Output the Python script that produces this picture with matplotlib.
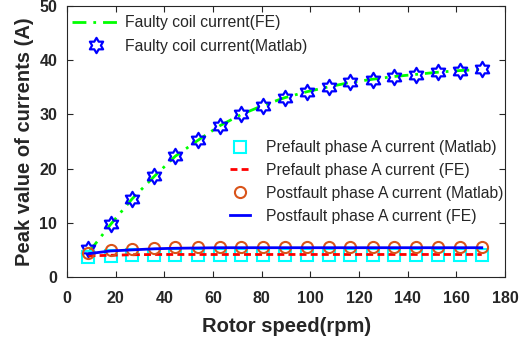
import numpy as np
import matplotlib
matplotlib.use("Agg")
import matplotlib.pyplot as plt
from matplotlib.path import Path

plt.rcParams['font.family'] = ['Liberation Sans', 'DejaVu Sans']

# ---- data ----
speed = [8.8, 17.9, 26.7, 35.9, 44.5, 54.0, 62.7, 71.6, 80.7, 89.5,
         98.6, 107.5, 116.3, 125.6, 134.3, 143.5, 152.5, 161.3, 170.4]
faulty_fe = [4.5, 9.7, 14.4, 18.6, 22.3, 25.3, 27.9, 30.0, 31.7, 33.1,
             34.2, 35.1, 35.9, 36.5, 37.0, 37.4, 37.8, 38.1, 38.3]
faulty_matlab = [5.2, 9.8, 14.3, 18.7, 22.3, 25.2, 27.9, 30.0, 31.6, 33.0,
                 34.1, 35.0, 35.9, 36.4, 36.9, 37.3, 37.8, 38.0, 38.4]
pre_matlab = [3.6, 3.9, 4.0, 4.0, 4.0, 4.0, 4.0, 4.0, 4.0, 4.0,
              4.0, 4.0, 4.0, 4.0, 4.0, 4.0, 4.0, 4.0, 4.0]
pre_fe = [3.9, 4.0, 4.1, 4.15, 4.15, 4.15, 4.15, 4.15, 4.15, 4.15,
          4.15, 4.15, 4.15, 4.15, 4.15, 4.15, 4.15, 4.15, 4.15]
post_matlab = [4.4, 4.9, 5.2, 5.4, 5.45, 5.5, 5.5, 5.5, 5.5, 5.5,
               5.5, 5.5, 5.5, 5.5, 5.5, 5.5, 5.5, 5.5, 5.5]
post_fe = [4.3, 4.8, 5.0, 5.2, 5.3, 5.35, 5.4, 5.4, 5.4, 5.4,
           5.4, 5.4, 5.4, 5.4, 5.4, 5.4, 5.4, 5.4, 5.4]

xticks = [0, 20, 40, 60, 80, 100, 120, 140, 160, 180]
yticks = [0, 10, 20, 30, 40, 50]

# hexagram marker (Star of David outline)
ang_o = np.deg2rad(90 + 60 * np.arange(6))
ang_i = ang_o + np.deg2rad(30)
r_i = 1 / np.sqrt(3)
verts = []
for ao, ai in zip(ang_o, ang_i):
    verts.append((np.cos(ao), np.sin(ao)))
    verts.append((r_i * np.cos(ai), r_i * np.sin(ai)))
verts.append(verts[0])
codes = [Path.MOVETO] + [Path.LINETO] * (len(verts) - 2) + [Path.CLOSEPOLY]
hexagram = Path(verts, codes)

txtc = (0.15, 0.15, 0.15)
fig = plt.figure(figsize=(5.24, 3.39), dpi=100)
ax = fig.add_axes([0.128, 0.183, 0.836, 0.799])

l1, = ax.plot(speed, faulty_fe, color=(0, 1, 0), lw=2, linestyle=(0, (5, 2.5, 1, 2.5)),
              label='Faulty coil current(FE)')
l2, = ax.plot(speed, faulty_matlab, linestyle='none', marker=hexagram, ms=11,
              mfc='none', mec=(0, 0, 1), mew=1.6, label='Faulty coil current(Matlab)')
l3, = ax.plot(speed, pre_matlab, linestyle='none', marker='s', ms=8,
              mfc='none', mec=(0, 1, 1), mew=1.5, label='Prefault phase A current (Matlab)')
l4, = ax.plot(speed, pre_fe, color=(1, 0, 0), lw=2, linestyle=(0, (2.5, 1.5)),
              label='Prefault phase A current (FE)')
l5, = ax.plot(speed, post_matlab, linestyle='none', marker='o', ms=8,
              mfc='none', mec=(0.85, 0.33, 0.1), mew=1.5, label='Postfault phase A current (Matlab)')
l6, = ax.plot(speed, post_fe, color=(0, 0, 1), lw=2, label='Postfault phase A current (FE)')

ax.set_xlim(0, 180)
ax.set_ylim(0, 50)
ax.set_xticks(xticks)
ax.set_yticks(yticks)
ax.tick_params(direction='in', top=True, right=True, length=4, width=0.8,
               labelsize=11.5, colors=txtc)
ax.tick_params(axis='x', pad=10)
ax.tick_params(axis='y', pad=7)
for lab in ax.get_xticklabels() + ax.get_yticklabels():
    lab.set_fontweight('bold')
for s in ax.spines.values():
    s.set_color(txtc)
    s.set_linewidth(0.8)
ax.set_xlabel('Rotor speed(rpm)', fontsize=14.5, fontweight='bold', color=txtc, labelpad=8)
ax.set_ylabel('Peak value of currents (A)', fontsize=14.5, fontweight='bold', color=txtc, labelpad=4)

leg1 = fig.legend(handles=[l1, l2], loc='upper left', bbox_to_anchor=(72 / 524, 1 - 15 / 339),
                  frameon=False, fontsize=11.3, handlelength=3.0, handletextpad=0.35,
                  labelspacing=0.55, borderpad=0, borderaxespad=0, numpoints=1,
                  labelcolor=txtc)
leg2 = fig.legend(handles=[l3, l4, l5, l6], loc='upper left',
                  bbox_to_anchor=(230 / 524, 1 - 140 / 339),
                  frameon=False, fontsize=11.3, handlelength=1.3, handletextpad=1.0,
                  labelspacing=0.5, borderpad=0, borderaxespad=0, numpoints=1,
                  labelcolor=txtc)

fig.savefig('out.png', dpi=100)
